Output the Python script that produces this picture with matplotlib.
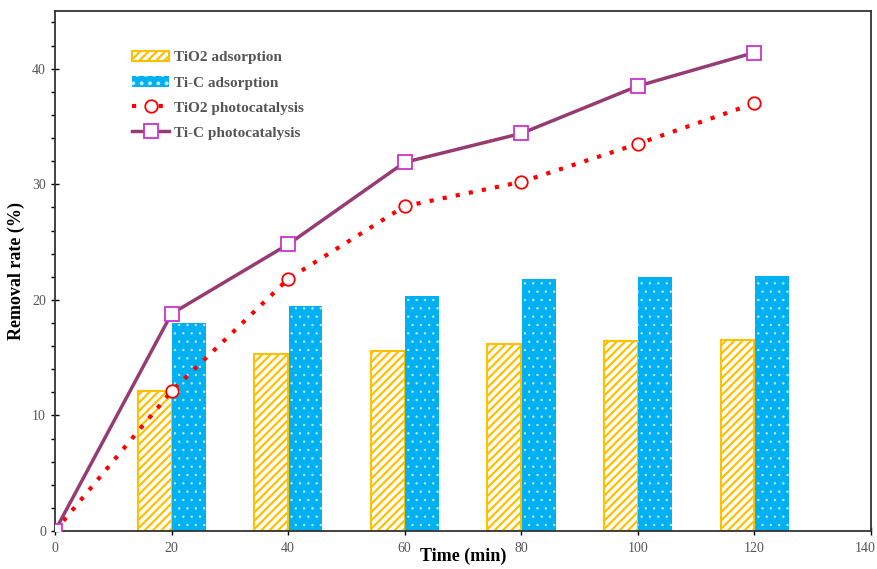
import matplotlib
matplotlib.use("Agg")
import matplotlib.pyplot as plt
import matplotlib.transforms as mtransforms
import numpy as np
from matplotlib.ticker import MultipleLocator

plt.rcParams['font.family'] = ['Liberation Serif', 'DejaVu Serif']
plt.rcParams['hatch.linewidth'] = 1.6

time = [20, 40, 60, 80, 100, 120]
tio2_ads = [12.1, 15.3, 15.6, 16.2, 16.4, 16.5]
tic_ads = [18.0, 19.45, 20.3, 21.8, 22.0, 22.1]
line_time = [0, 20, 40, 60, 80, 100, 120]
tio2_photo = [0, 12.1, 21.8, 28.1, 30.2, 33.5, 37.0]
tic_photo = [0, 18.8, 24.8, 31.9, 34.4, 38.5, 41.4]

fig = plt.figure(figsize=(8.78, 5.69), dpi=100)
ax = fig.add_axes([0.0626, 0.0668, 0.9294, 0.914])

t = np.array(time)
w = 5.8
b1 = ax.bar(t - w/2, tio2_ads, width=w, facecolor='white', edgecolor='#FFC000',
            hatch='////', linewidth=1.5, label='TiO2 adsorption', zorder=2)
with plt.rc_context({'hatch.linewidth': 0.5}):
    b2 = ax.bar(t + w/2 + 0.1, tic_ads, width=w, facecolor='#00B0F0', edgecolor='#BFE9FA',
                hatch='..', linewidth=0, label='Ti-C adsorption', zorder=2)
l1, = ax.plot(line_time, tio2_photo, linestyle=(0, (1, 2.2)), color='#FF0000', lw=3,
              marker='o', ms=9, mfc='white', mec='#FF0000', mew=1.3,
              label='TiO2 photocatalysis', zorder=3)
l2, = ax.plot(line_time, tic_photo, linestyle='-', color='#963C73', lw=2.5,
              marker='s', ms=10, mfc='white', mec='#CC33CC', mew=1.3,
              label='Ti-C photocatalysis', zorder=4)

ax.set_xlim(0, 140)
ax.set_ylim(0, 45)
ax.set_xticks([0, 20, 40, 60, 80, 100, 120, 140])
ax.set_yticks([0, 10, 20, 30, 40])
ax.yaxis.set_minor_locator(MultipleLocator(2))
ax.tick_params(axis='both', which='major', direction='inout', length=6, width=1,
               labelsize=10, labelcolor='#555555')
ax.tick_params(axis='y', which='minor', direction='out', length=3, width=1)
ax.tick_params(axis='x', pad=5)
for s in ax.spines.values():
    s.set_linewidth(1.3)
    s.set_color('#333333')

ax.set_xlabel('Time (min)', fontsize=13, fontweight='bold')
ax.xaxis.set_label_coords(0.5, -0.033)
ax.set_ylabel('Removal rate (%)', fontsize=13, fontweight='bold', labelpad=5)

fig.canvas.draw()
last = ax.get_xticklabels()[-1]
last.set_transform(last.get_transform() +
                   mtransforms.ScaledTranslation(-6/100, 0, fig.dpi_scale_trans))

leg = ax.legend(handles=[b1, b2, l1, l2], loc='upper left',
                bbox_to_anchor=(0.078, 0.95), frameon=False,
                prop={'size': 11, 'weight': 'bold'}, labelspacing=0.75,
                handlelength=2.4, handletextpad=0.3)
for txt in leg.get_texts():
    txt.set_color('#555555')

fig.savefig('out.png', dpi=100)
